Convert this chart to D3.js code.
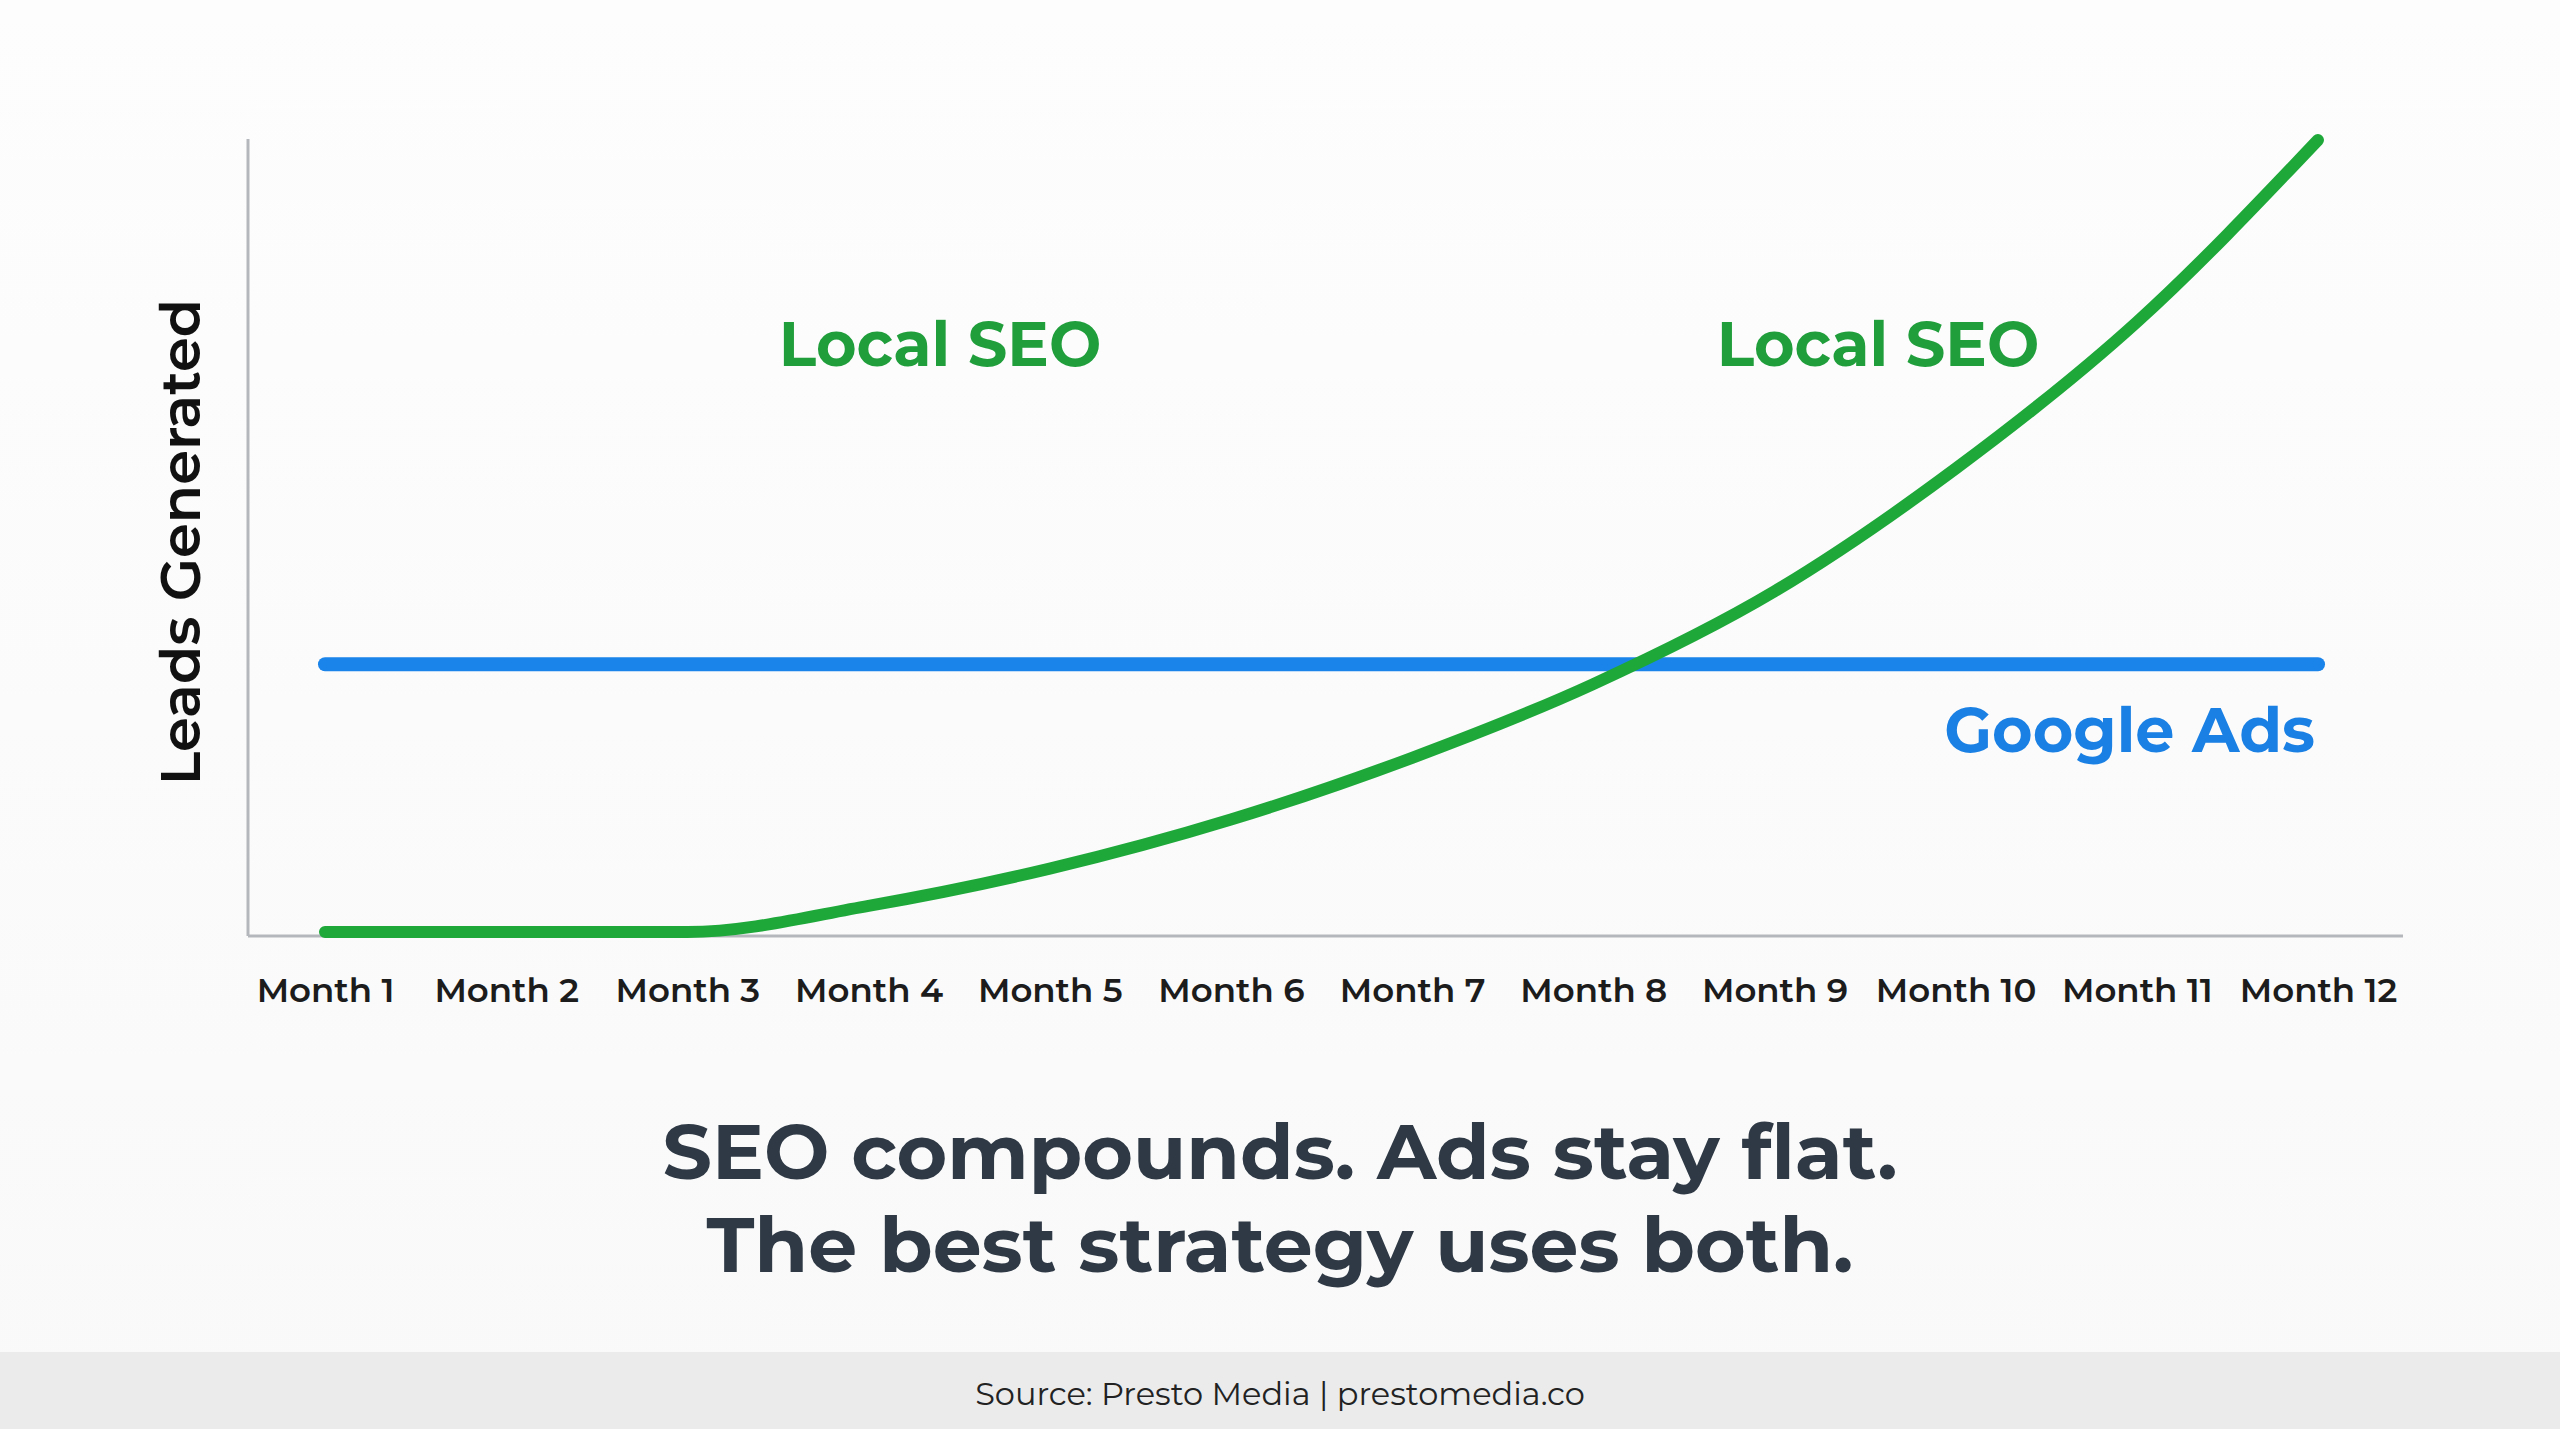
<!DOCTYPE html>
<html>
<head>
<meta charset="utf-8">
<script src="https://cdn.jsdelivr.net/npm/d3@7/dist/d3.min.js"></script>
<style>
  html, body { margin: 0; padding: 0; background: #fcfcfc; }
  svg { display: block; }
</style>
</head>
<body>
<svg id="chart" width="2560" height="1429"></svg>
<script>
// ---- data ----
const months = ["Month 1","Month 2","Month 3","Month 4","Month 5","Month 6",
                "Month 7","Month 8","Month 9","Month 10","Month 11","Month 12"];
const seoLeads = [0, 0, 0, 3.3, 8.0, 14.2, 22.0, 31.3, 43.0, 58.5, 77.0, 100];
const adsLeads = [33.8, 33.8, 33.8, 33.8, 33.8, 33.8, 33.8, 33.8, 33.8, 33.8, 33.8, 33.8];
const seriesLabels = ["Local SEO", "Local SEO", "Google Ads"];
const yLabel = "Leads Generated";
const titleLines = ["SEO compounds. Ads stay flat.", "The best strategy uses both."];
const sourceText = "Source: Presto Media | prestomedia.co";

// ---- layout ----
const W = 2560, H = 1429;
const plot = { left: 248, right: 2403, top: 139, bottom: 936 };
const svg = d3.select("#chart");
const FONT = "Montserrat, Inter, 'Open Sans', sans-serif";

// background
const defs = svg.append("defs");
const bg = defs.append("linearGradient").attr("id","bg").attr("x1",0).attr("y1",0).attr("x2",0).attr("y2",1);
bg.append("stop").attr("offset","0%").attr("stop-color","#fdfdfd");
bg.append("stop").attr("offset","100%").attr("stop-color","#f9f9f9");
svg.append("rect").attr("width", W).attr("height", H).attr("fill", "url(#bg)");
svg.append("rect").attr("x", 0).attr("y", 1352).attr("width", W).attr("height", H - 1352).attr("fill", "#ebebec");

// scales
const x = d3.scalePoint().domain(months).range([325, 2318]).padding(0);
const y = d3.scaleLinear().domain([0, 100]).range([932, 140]);

// axes lines
svg.append("line")
  .attr("x1", plot.left).attr("x2", plot.left)
  .attr("y1", plot.top).attr("y2", plot.bottom)
  .attr("stroke", "#b4b8bc").attr("stroke-width", 3);
svg.append("line")
  .attr("x1", plot.left).attr("x2", plot.right)
  .attr("y1", plot.bottom).attr("y2", plot.bottom)
  .attr("stroke", "#b4b8bc").attr("stroke-width", 3);

// x axis labels
const xAxis = svg.append("g")
  .attr("transform", `translate(0, ${plot.bottom})`)
  .call(d3.axisBottom(x).tickSize(0).tickPadding(42));
xAxis.select(".domain").remove();
xAxis.selectAll("text")
  .attr("font-family", FONT)
  .attr("font-size", 34)
  .attr("font-weight", 600)
  .attr("fill", "#1c1c1c");

// lines
const line = d3.line()
  .x((d, i) => x(months[i]))
  .y(d => y(d))
  .curve(d3.curveMonotoneX);

svg.append("path")
  .datum(adsLeads)
  .attr("d", line)
  .attr("fill", "none")
  .attr("stroke", "#1a84ea")
  .attr("stroke-width", 14)
  .attr("stroke-linecap", "round");

svg.append("path")
  .datum(seoLeads)
  .attr("d", line)
  .attr("fill", "none")
  .attr("stroke", "#1ea83a")
  .attr("stroke-width", 12)
  .attr("stroke-linecap", "round")
  .attr("stroke-linejoin", "round");

// series labels
svg.append("text")
  .attr("x", 940).attr("y", 366)
  .attr("text-anchor", "middle")
  .attr("font-family", FONT).attr("font-weight", 700).attr("font-size", 62)
  .attr("fill", "#1f9e3b")
  .text(seriesLabels[0]);
svg.append("text")
  .attr("x", 1878).attr("y", 366)
  .attr("text-anchor", "middle")
  .attr("font-family", FONT).attr("font-weight", 700).attr("font-size", 62)
  .attr("fill", "#1f9e3b")
  .text(seriesLabels[1]);
svg.append("text")
  .attr("x", 2315).attr("y", 752)
  .attr("text-anchor", "end")
  .attr("font-family", FONT).attr("font-weight", 700).attr("font-size", 62)
  .attr("fill", "#1a80e4")
  .text(seriesLabels[2]);

// y label
svg.append("text")
  .attr("transform", "translate(200, 542) rotate(-90)")
  .attr("text-anchor", "middle")
  .attr("font-family", FONT).attr("font-weight", 600).attr("font-size", 56)
  .attr("fill", "#111111")
  .text(yLabel);

// title
svg.append("text")
  .attr("x", 1280).attr("y", 1179)
  .attr("text-anchor", "middle")
  .attr("font-family", FONT).attr("font-weight", 700).attr("font-size", 77.5)
  .attr("fill", "#2e3945")
  .text(titleLines[0]);
svg.append("text")
  .attr("x", 1280).attr("y", 1272)
  .attr("text-anchor", "middle")
  .attr("font-family", FONT).attr("font-weight", 700).attr("font-size", 77.5)
  .attr("fill", "#2e3945")
  .text(titleLines[1]);

// source
svg.append("text")
  .attr("x", 1280).attr("y", 1405)
  .attr("text-anchor", "middle")
  .attr("font-family", FONT).attr("font-weight", 400).attr("font-size", 32)
  .attr("fill", "#222222")
  .text(sourceText);
</script>
</body>
</html>
